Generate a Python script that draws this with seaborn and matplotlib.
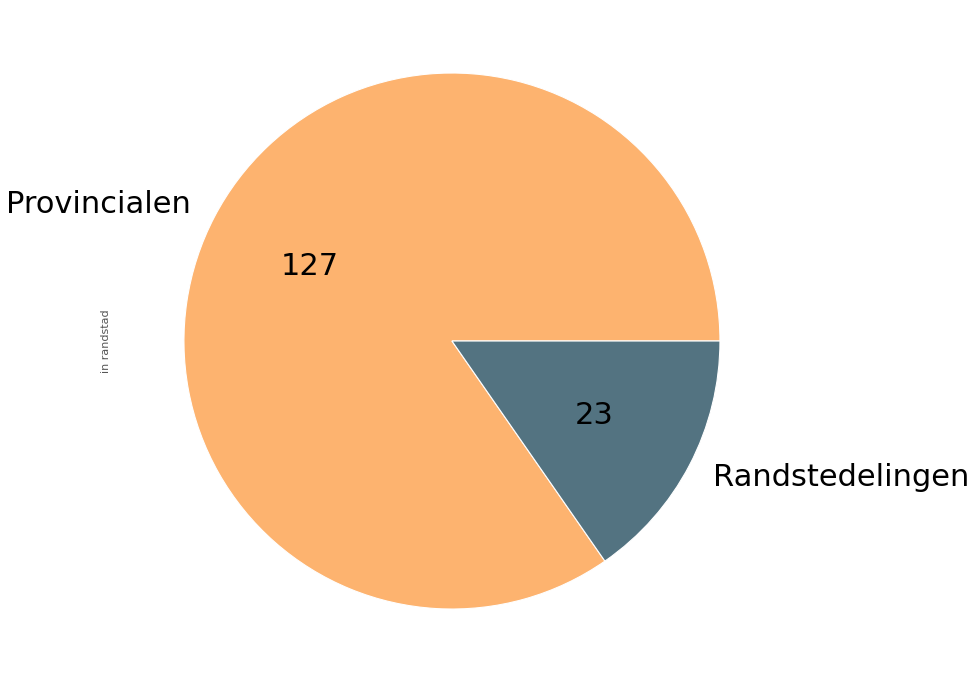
import matplotlib
matplotlib.use("Agg")
import matplotlib.pyplot as plt
import seaborn as sns

labels = ["Provincialen", "Randstedelingen"]
counts = [127, 23]
colors = ["#FDB36F", "#537381"]

sns.set_theme(style="white")
plt.rcParams["font.family"] = ["DejaVu Sans"]

fig = plt.figure(figsize=(9.73, 6.83), dpi=100)
ax = fig.add_axes([0.1202, 0.0102, 0.6886, 0.981])
ax.pie(counts, labels=labels, colors=colors,
       autopct=lambda p: f"{round(p * sum(counts) / 100):d}",
       wedgeprops={"edgecolor": "white", "linewidth": 0.8},
       textprops={"fontsize": 22, "color": "black"})
ax.set_ylabel("in randstad", fontsize=8, color="#555555")
ax.set_aspect("equal")
fig.savefig("out.png", dpi=100)
